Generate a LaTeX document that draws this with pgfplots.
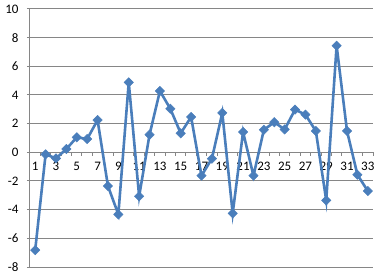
\documentclass[border=0pt]{standalone}
\usepackage{pgfplots}
\pgfplotsset{compat=1.18}
\usepackage{fontspec}
\setmainfont{Carlito}
\definecolor{ser}{HTML}{4A7EBB}
\definecolor{gr}{HTML}{868686}
\begin{document}
\begin{tikzpicture}
\begin{axis}[
  scale only axis, width=343bp, height=258bp,
  xmin=0.5, xmax=33.5, ymin=-8, ymax=10,
  axis x line=middle, axis y line=left,
  axis line style={gr, line width=1bp, -},
  ytick={-8,-6,-4,-2,0,2,4,6,8,10},
  yticklabels={-8,-6,-4,-2,0,2,4,6,8,10},
  xtick={1,3,5,7,9,11,13,15,17,19,21,23,25,27,29,31,33},
  xticklabels={1,3,5,7,9,11,13,15,17,19,21,23,25,27,29,31,33},
  x tick style={draw=none},
  y tick style={gr, line width=1bp},
  tick align=outside, major tick length=3bp,
  ymajorgrids, grid style={gr, line width=1bp},
  ticklabel style={font=\fontsize{13bp}{15bp}\selectfont, text=black},
  yticklabel style={anchor=east, xshift=-5bp},
  xticklabel style={anchor=north, yshift=-3bp},
  clip=false,
]
\pgfplotsinvokeforeach{0.5,1.5,...,33.5}{\draw[gr, line width=1bp] (axis cs:#1,0) -- ([yshift=-4bp]axis cs:#1,0);}
\addplot[ser, line width=2.6bp, mark=square*, mark size=3.3bp, mark options={rotate=45, fill=ser, draw=ser, line width=0.5bp}] coordinates {
(1,-6.82) (2,-0.14) (3,-0.42) (4,0.23) (5,1.05) (6,0.93) (7,2.25) (8,-2.35) (9,-4.33) (10,4.88)
(11,-3.07) (12,1.23) (13,4.28) (14,3.04) (15,1.33) (16,2.47) (17,-1.63) (18,-0.44) (19,2.75) (20,-4.26)
(21,1.42) (22,-1.63) (23,1.57) (24,2.1) (25,1.6) (26,2.98) (27,2.63) (28,1.49) (29,-3.35) (30,7.44)
(31,1.49) (32,-1.56) (33,-2.7)};
\coordinate (bl) at (rel axis cs:0,0);
\coordinate (tr) at (rel axis cs:1,1);
\end{axis}
\pgfresetboundingbox
\path ([shift={(-30bp,-6bp)}]bl) rectangle ([shift={(5bp,9bp)}]tr);
\end{tikzpicture}
\end{document}
